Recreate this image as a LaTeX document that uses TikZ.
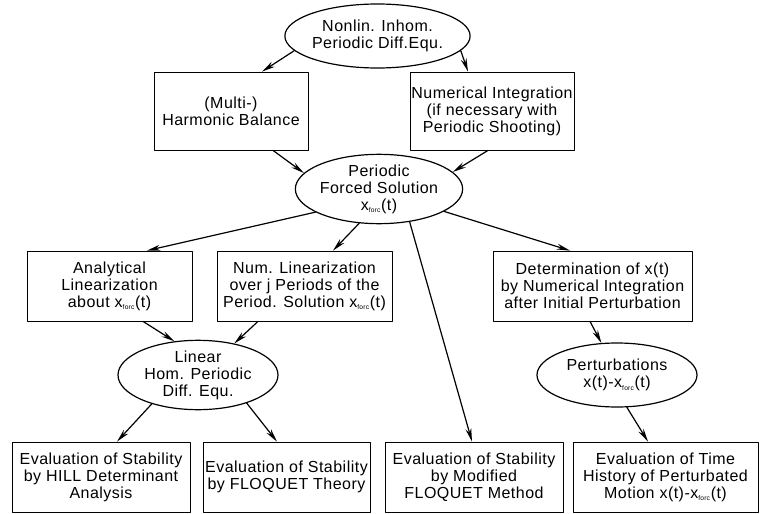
\documentclass[tikz,border=0pt]{standalone}
\usepackage{fontspec}
\setmainfont{Liberation Sans}[LetterSpace=3]
\usepackage{tikz}
\usetikzlibrary{arrows.meta,calc,shapes.geometric}

\begin{document}
\begin{tikzpicture}[x=0.75pt, y=-0.75pt, line cap=round, line join=round,
  font=\fontsize{12}{12.8}\selectfont,
  box/.style 2 args={draw, line width=0.6pt, rectangle, align=center,
    inner sep=1pt, minimum width=#1*0.75pt, minimum height=#2*0.75pt},
  oval/.style 2 args={draw, line width=0.9pt, ellipse, align=center,
    inner sep=0pt, minimum width=#1*0.75pt, minimum height=#2*0.75pt},
  flow/.style={-{Stealth[length=10pt,width=4.4pt]}, line width=0.9pt}]
  \newcommand{\xforc}{x\textsubscript{\tiny forc}(t)}

  \useasboundingbox (0,0) rectangle (761,514);

  % source equation and the two ways to its periodic solution
  \node[oval={151}{64}] (ode) at (377.5,36) {Nonlin. Inhom.\\Periodic Diff.Equ.};
  \node[box={154}{78}] (hb) at (231,111) {(Multi-)\\Harmonic Balance};
  \node[box={164}{78}] (ni) at (492,111)
    {Numerical Integration\\(if necessary with\\Periodic Shooting)};
  \node[oval={160}{62}] (pfs) at (379,189) {Periodic\\Forced Solution\\\xforc};

  % linearization / perturbation
  \node[box={165}{70}] (al) at (109.5,286) {Analytical\\Linearization\\about \xforc};
  \node[box={175}{70}] (nl) at (304.5,286)
    {Num. Linearization\\over j Periods of the\\Period. Solution \xforc};
  \node[box={199}{70}] (dx) at (592.5,286)
    {Determination of x(t)\\by Numerical Integration\\after Initial Perturbation};
  \node[oval={160}{66}] (lhp) at (198,375) {Linear\\Hom. Periodic\\Diff. Equ.};
  \node[oval={160}{64}] (pert) at (617,375) {Perturbations\\x(t)-\xforc};

  % evaluation
  \node[box={178}{70}] (hill) at (101,477)
    {Evaluation of Stability\\by HILL Determinant\\Analysis};
  \node[box={167}{70}] (floq) at (286.5,477)
    {Evaluation of Stability\\by FLOQUET Theory};
  \node[box={178}{70}] (mfm) at (474,477)
    {Evaluation of Stability\\by Modified\\FLOQUET Method};
  \node[box={185}{70}] (th) at (665.5,477)
    {Evaluation of Time\\History of Perturbated\\Motion x(t)-\xforc};

  \draw[flow] (ode.190) -- ($(hb.north)+(31,0)$);
  \draw[flow] (ode.350) -- ($(ni.north)+(-24,0)$);
  \draw[flow] ($(hb.south)+(42,0)$) -- (pfs.168);
  \draw[flow] ($(ni.south)+(-4,0)$) -- (pfs.13);
  \draw[flow] (pfs.200) -- ($(al.north)+(37.5,0)$);
  \draw[flow] (pfs.240) -- ($(nl.north)+(28.5,0)$);
  \draw[flow] (pfs.313) -- ($(mfm.north)+(-2,0)$);
  \draw[flow] (pfs.341) -- ($(dx.north)+(-22.5,0)$);
  \draw[flow] ($(al.south)+(33.5,0)$) -- (lhp.125);
  \draw[flow] ($(nl.south)+(-46.5,0)$) -- (lhp.41);
  \draw[flow] (lhp.212) -- ($(hill.north)+(16,0)$);
  \draw[flow] (lhp.330) -- ($(floq.north)+(-9.5,0)$);
  \draw[flow] ($(dx.south)+(-2.5,0)$) -- (pert.116);
  \draw[flow] (pert.287) -- ($(th.north)+(-17.5,0)$);
\end{tikzpicture}
\end{document}
